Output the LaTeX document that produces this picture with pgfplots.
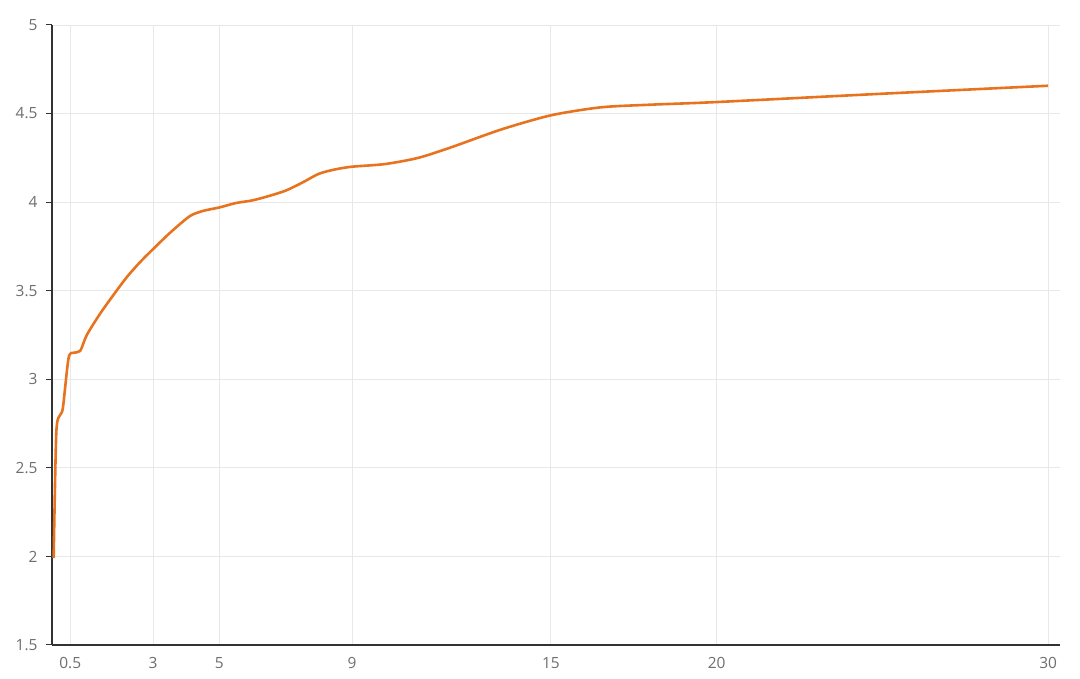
\documentclass[border=0pt]{standalone}
\usepackage{pgfplots}
\pgfplotsset{compat=1.18}
\usepackage{fontspec}
\setmainfont{Open Sans}
\definecolor{lineor}{HTML}{E8731E}
\definecolor{gridc}{HTML}{E8E8EC}
\definecolor{labc}{HTML}{6E6E6E}
\definecolor{axc}{HTML}{333333}
\begin{document}
\begin{tikzpicture}[x=1bp,y=1bp]
\path[use as bounding box] (0,0) rectangle (1080,679);
\begin{axis}[
  at={(52bp,34bp)}, anchor=south west,
  scale only axis, width=1008bp, height=620bp,
  xmin=-0.05, xmax=30.36, ymin=1.5, ymax=5,
  xtick={0.5,3,5,9,15,20,30},
  ytick={1.5,2,2.5,3,3.5,4,4.5,5},
  axis x line*=bottom, axis y line*=left,
  axis line style={draw=axc, line width=1.2bp, -},
  grid=major, major grid style={draw=gridc, line width=0.8bp},
  x tick style={draw=none},
  y tick style={draw=axc, line width=1bp},
  major tick length=6bp, tick align=outside,
  /pgf/number format/assume math mode=true,
  /pgf/number format/fixed,
  tick label style={font=\fontsize{15.5}{18}\selectfont, text=labc},
  yticklabel style={xshift=-5bp},
  xticklabel style={yshift=-3bp},
  clip=false,
]
\addplot[lineor, line width=2.6bp, smooth, tension=0.45] coordinates {
(0,1.99) (0.08,2.70) (0.2,2.80) (0.28,2.84) (0.45,3.12) (0.6,3.15) (0.8,3.16)
(1.0,3.25) (1.4,3.37) (1.8,3.475) (2.2,3.575) (2.6,3.66) (3.0,3.735) (3.5,3.825) (4.1,3.92)
(4.5,3.95) (5.0,3.97) (5.5,3.995) (6.0,4.01) (6.5,4.035)
(7.0,4.065) (7.5,4.11) (8.0,4.16) (8.5,4.185) (9.0,4.20) (10.0,4.215) (11.0,4.25) (12.0,4.31)
(13.5,4.41) (15.0,4.49) (16.5,4.535) (18.0,4.55) (20.0,4.565) (25.0,4.612) (30.0,4.657)
};
\end{axis}
\end{tikzpicture}
\end{document}
